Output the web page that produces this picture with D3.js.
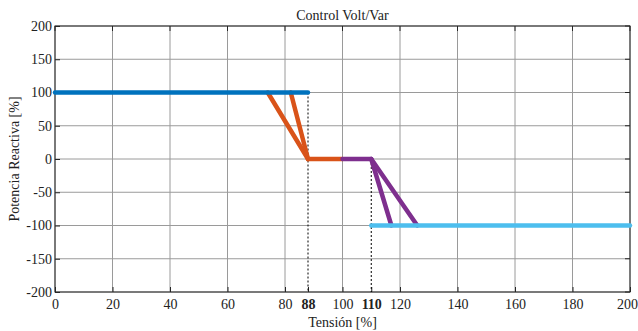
<!DOCTYPE html>
<html>
<head>
<meta charset="utf-8">
<script src="https://cdn.jsdelivr.net/npm/d3@7"></script>
<style>
  body { margin: 0; background: #fff; }
  text { font-family: "Liberation Serif", serif; }
</style>
</head>
<body>
<svg id="chart" width="638" height="331"></svg>
<script>
// data
const blue = [[0, 100], [88, 100]]
const orangeA = [[74, 100], [88, 0]]
const orangeB = [[82, 100], [88, 0]]
const orangeFlat = [[88, 0], [100, 0]]
const purpleFlat = [[100, 0], [110, 0]]
const purpleA = [[110, 0], [117, -100]]
const purpleB = [[110, 0], [126, -100]]
const lightBlue = [[110, -100], [200, -100]]
const guide88 = [[88, 100], [88, -200]]
const guide110 = [[110, 0], [110, -200]]
const xTicks = [0, 20, 40, 60, 80, 88, 100, 110, 120, 140, 160, 180, 200]
const xGrid = [0, 20, 40, 60, 80, 100, 120, 140, 160, 180, 200]
const yTicks = [-200, -150, -100, -50, 0, 50, 100, 150, 200]
const boldTicks = [88, 110]

const margin = { top: 26, right: 8, bottom: 39, left: 55 }
const W = 638, H = 331
const FONT = '"Liberation Serif", serif'
const svg = d3.select('#chart')

const x = d3.scaleLinear().domain([0, 200]).range([margin.left, W - margin.right])
const y = d3.scaleLinear().domain([-200, 200]).range([H - margin.bottom, margin.top])

// grid
const grid = svg.append('g').attr('stroke', '#9a9a9a').attr('stroke-width', 1)
grid.selectAll('.gx').data(xGrid).enter().append('line')
  .attr('x1', d => x(d)).attr('x2', d => x(d))
  .attr('y1', y(-200)).attr('y2', y(200))
grid.selectAll('.gy').data(yTicks).enter().append('line')
  .attr('x1', x(0)).attr('x2', x(200))
  .attr('y1', d => y(d)).attr('y2', d => y(d))

// axes
const xAxis = svg.append('g')
  .attr('transform', `translate(0,${y(-200)})`)
  .call(d3.axisBottom(x).tickValues(xTicks).tickSize(5).tickFormat(d => String(d)))
xAxis.selectAll('text')
  .attr('font-size', 14)
  .attr('fill', '#222')
  .attr('font-weight', d => boldTicks.includes(d) ? 'bold' : 'normal')
  .attr('x', d => d === 200 ? -3 : 0)
  .attr('y', 4)
  .attr('dy', '0.9em')
xAxis.selectAll('.tick line').attr('transform', 'translate(0,-5)')

const yAxis = svg.append('g')
  .attr('transform', `translate(${x(0)},0)`)
  .call(d3.axisLeft(y).tickValues(yTicks).tickSize(5).tickFormat(d => String(d)))
yAxis.selectAll('text').attr('font-size', 14).attr('fill', '#222').attr('x', -3)
yAxis.selectAll('.tick line').attr('transform', 'translate(5,0)')

svg.selectAll('.domain').remove()
svg.selectAll('.tick line').attr('stroke', '#262626')
svg.selectAll('.tick text').attr('font-family', FONT)

// box
svg.append('rect')
  .attr('x', x(0)).attr('y', y(200))
  .attr('width', x(200) - x(0)).attr('height', y(-200) - y(200))
  .attr('fill', 'none').attr('stroke', '#262626').attr('stroke-width', 1)
// top / right ticks
svg.append('g').selectAll('line').data(xGrid).enter().append('line')
  .attr('x1', d => x(d)).attr('x2', d => x(d))
  .attr('y1', y(200)).attr('y2', y(200) + 5).attr('stroke', '#262626')
svg.append('g').selectAll('line').data(yTicks).enter().append('line')
  .attr('x1', x(200)).attr('x2', x(200) - 5)
  .attr('y1', d => y(d)).attr('y2', d => y(d)).attr('stroke', '#262626')

const line = d3.line().x(d => x(d[0])).y(d => y(d[1]))

// guide lines
for (const g of [guide88, guide110]) {
  svg.append('path').attr('d', line(g))
    .attr('fill', 'none').attr('stroke', '#000').attr('stroke-width', 1)
    .attr('stroke-dasharray', '2,2')
}

const series = [
  [orangeA, '#D95319'], [orangeB, '#D95319'], [orangeFlat, '#D95319'],
  [purpleFlat, '#7E2F8E'], [purpleA, '#7E2F8E'], [purpleB, '#7E2F8E'],
  [lightBlue, '#4DBEEE'], [blue, '#0072BD']
]
for (const [data, color] of series) {
  svg.append('path').attr('d', line(data))
    .attr('fill', 'none').attr('stroke', color).attr('stroke-width', 4.5)
    .attr('stroke-linecap', 'round')
}

// labels
svg.append('text').attr('x', (x(0) + x(200)) / 2).attr('y', 20)
  .attr('text-anchor', 'middle').attr('font-size', 14).attr('fill', '#222')
  .text('Control Volt/Var')
svg.append('text').attr('x', (x(0) + x(200)) / 2).attr('y', 327)
  .attr('text-anchor', 'middle').attr('font-size', 14).attr('fill', '#222')
  .text('Tensión [%]')
svg.append('text')
  .attr('transform', `translate(19,${(y(-200) + y(200)) / 2}) rotate(-90)`)
  .attr('text-anchor', 'middle').attr('font-size', 14).attr('fill', '#222')
  .text('Potencia Reactiva [%]')
</script>
</body>
</html>
